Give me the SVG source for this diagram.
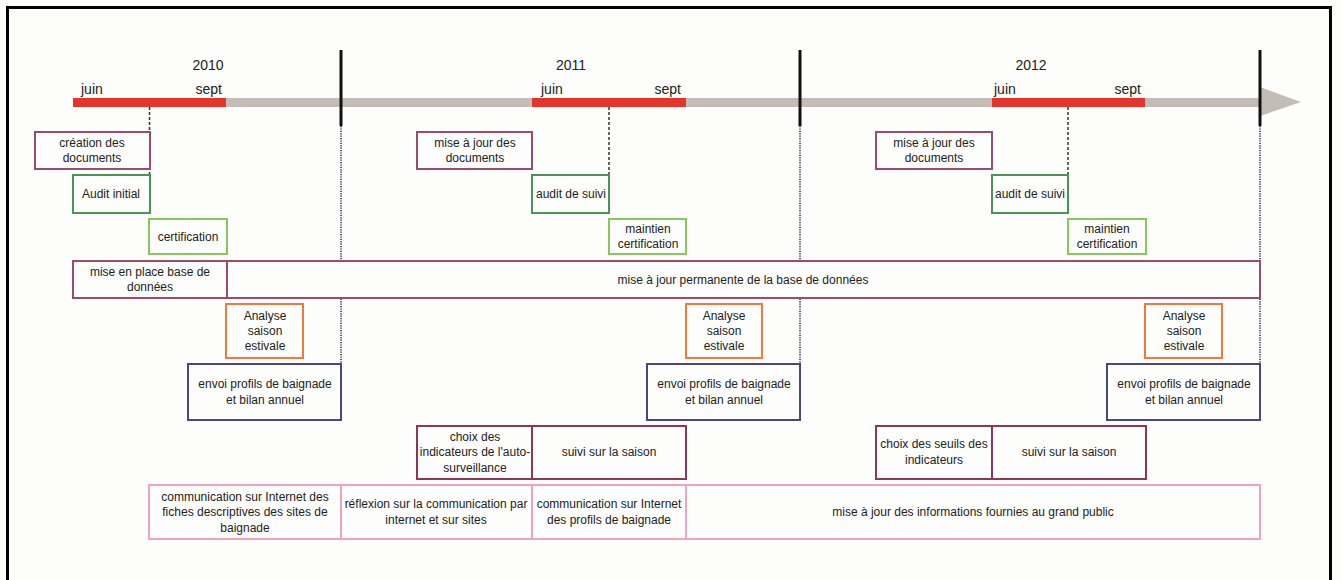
<svg xmlns="http://www.w3.org/2000/svg" width="1342" height="580" viewBox="0 0 1342 580">
<style>
text{font-family:"Liberation Sans",Arial,sans-serif;fill:#222;text-anchor:middle;font-size:12px}
.yr{font-size:14px}
.mo{font-size:14px;text-anchor:start}
.moe{font-size:14px;text-anchor:end}
rect{fill:#fdfdfb}
.m{stroke:#9c4a6e;stroke-width:2}
.m2{stroke:#8e3657;stroke-width:2}
.g{stroke:#4b9458;stroke-width:2}
.lg{stroke:#86c95a;stroke-width:2}
.o{stroke:#f0793c;stroke-width:2}
.n{stroke:#4a4685;stroke-width:2}
.p{stroke:#efa3c3;stroke-width:2}
.dash{stroke:#333;stroke-width:1.5;stroke-dasharray:3 2;fill:none}
.dot{stroke:#5a5a78;stroke-width:2;stroke-dasharray:1.2 1.2;fill:none}
.sep{stroke:#111;stroke-width:3}
</style>
<rect x="0" y="0" width="1342" height="580" style="fill:#fdfdfb"/>
<rect x="7.5" y="7.5" width="1323" height="590" style="fill:#fdfdfb;stroke:#000;stroke-width:3"/>

<g id="timeline">
<rect x="73" y="98" width="1188" height="9" style="fill:#c4bdb6"/>
<polygon points="1260,87 1301,102 1260,116" style="fill:#c4bdb6"/>
<rect x="73" y="98" width="153" height="9" style="fill:#e5342a"/>
<rect x="532" y="98" width="154" height="9" style="fill:#e5342a"/>
<rect x="992" y="98" width="153" height="9" style="fill:#e5342a"/>
<text class="yr" x="208" y="70">2010</text>
<text class="mo" x="81" y="94">juin</text>
<text class="moe" x="222" y="94">sept</text>
<text class="yr" x="571" y="70">2011</text>
<text class="mo" x="541" y="94">juin</text>
<text class="moe" x="681" y="94">sept</text>
<text class="yr" x="1031" y="70">2012</text>
<text class="mo" x="994" y="94">juin</text>
<text class="moe" x="1141" y="94">sept</text>
</g>

<g id="connectors">
<line class="sep" x1="341" y1="50" x2="341" y2="126"/>
<line class="sep" x1="800" y1="50" x2="800" y2="126"/>
<line class="sep" x1="1260" y1="50" x2="1260" y2="126"/>
<line class="dot" x1="341" y1="126" x2="341" y2="364"/>
<line class="dot" x1="800" y1="126" x2="800" y2="364"/>
<line class="dot" x1="1260" y1="126" x2="1260" y2="364"/>
<line class="dash" x1="149.5" y1="107" x2="149.5" y2="175"/>
<line class="dash" x1="609" y1="107" x2="609" y2="175"/>
<line class="dash" x1="1068" y1="107" x2="1068" y2="175"/>
</g>

<g id="creation-documents"><rect class="m" x="35" y="132" width="115" height="37"/><text x="92" y="147">création des</text><text x="92" y="162">documents</text></g>
<g id="audit-initial"><rect class="g" x="73" y="175" width="77" height="38"/><text x="111" y="198">Audit initial</text></g>
<g id="certification"><rect class="lg" x="149" y="219" width="78" height="35"/><text x="188" y="241">certification</text></g>
<g id="mise-en-place-bdd"><rect class="m" x="73" y="261" width="154" height="37"/><text x="150" y="276">mise en place base de</text><text x="150" y="291">données</text></g>
<g id="maj-bdd"><rect class="m" x="227" y="261" width="1033" height="37"/><text x="743" y="284">mise à jour permanente de la base de données</text></g>
<g id="analyse-2010"><rect class="o" x="226" y="304" width="77" height="54"/><text x="265" y="320">Analyse</text><text x="265" y="335">saison</text><text x="265" y="350">estivale</text></g>
<g id="envoi-2010"><rect class="n" x="188" y="364" width="153" height="56"/><text x="265" y="388">envoi profils de baignade</text><text x="265" y="404">et bilan annuel</text></g>

<g id="maj-documents-2011"><rect class="m" x="417" y="132" width="115" height="37"/><text x="475" y="147">mise à jour des</text><text x="475" y="162">documents</text></g>
<g id="audit-suivi-2011"><rect class="g" x="532" y="175" width="77" height="38"/><text x="571" y="198">audit de suivi</text></g>
<g id="maintien-2011"><rect class="lg" x="609" y="219" width="77" height="35"/><text x="648" y="233">maintien</text><text x="648" y="248">certification</text></g>
<g id="analyse-2011"><rect class="o" x="686" y="304" width="76" height="54"/><text x="724" y="320">Analyse</text><text x="724" y="335">saison</text><text x="724" y="350">estivale</text></g>
<g id="envoi-2011"><rect class="n" x="647" y="364" width="153" height="56"/><text x="724" y="388">envoi profils de baignade</text><text x="724" y="404">et bilan annuel</text></g>

<g id="maj-documents-2012"><rect class="m" x="876" y="132" width="116" height="37"/><text x="934" y="147">mise à jour des</text><text x="934" y="162">documents</text></g>
<g id="audit-suivi-2012"><rect class="g" x="992" y="175" width="76" height="38"/><text x="1030" y="198">audit de suivi</text></g>
<g id="maintien-2012"><rect class="lg" x="1068" y="219" width="78" height="35"/><text x="1107" y="233">maintien</text><text x="1107" y="248">certification</text></g>
<g id="analyse-2012"><rect class="o" x="1145" y="304" width="77" height="54"/><text x="1184" y="320">Analyse</text><text x="1184" y="335">saison</text><text x="1184" y="350">estivale</text></g>
<g id="envoi-2012"><rect class="n" x="1107" y="364" width="153" height="56"/><text x="1184" y="388">envoi profils de baignade</text><text x="1184" y="404">et bilan annuel</text></g>

<g id="choix-indicateurs"><rect class="m2" x="417" y="426" width="115" height="53"/><text x="475" y="441">choix des</text><text x="475" y="456">indicateurs de l'auto-</text><text x="475" y="472">surveillance</text></g>
<g id="suivi-saison-2011"><rect class="m2" x="532" y="426" width="154" height="53"/><text x="609" y="456">suivi sur la saison</text></g>
<g id="choix-seuils"><rect class="m2" x="876" y="426" width="116" height="53"/><text x="934" y="448">choix des seuils des</text><text x="934" y="464">indicateurs</text></g>
<g id="suivi-saison-2012"><rect class="m2" x="992" y="426" width="154" height="53"/><text x="1069" y="456">suivi sur la saison</text></g>

<g id="comm-fiches"><rect class="p" x="149" y="485" width="192" height="54"/><text x="245" y="501">communication sur Internet des</text><text x="245" y="516">fiches descriptives des sites de</text><text x="245" y="532">baignade</text></g>
<g id="reflexion-comm"><rect class="p" x="341" y="485" width="191" height="54"/><text x="436" y="508">réflexion sur la communication par</text><text x="436" y="524">internet et sur sites</text></g>
<g id="comm-profils"><rect class="p" x="532" y="485" width="154" height="54"/><text x="609" y="508">communication sur Internet</text><text x="609" y="524">des profils de baignade</text></g>
<g id="maj-informations"><rect class="p" x="686" y="485" width="574" height="54"/><text x="973" y="516">mise à jour des informations fournies au grand public</text></g>
</svg>
